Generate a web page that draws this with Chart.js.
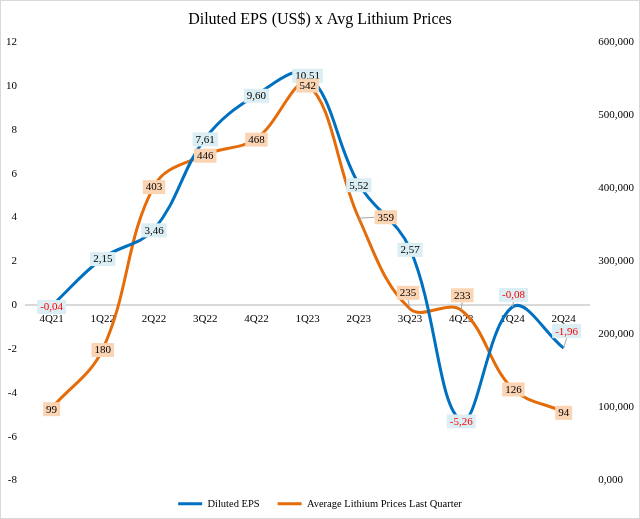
<!DOCTYPE html>
<html>
<head>
<meta charset="utf-8">
<script src="https://cdn.jsdelivr.net/npm/chart.js@4.4.1/dist/chart.umd.min.js"></script>
<style>
  html, body { margin: 0; padding: 0; background: #fff; }
  #wrap { width: 640px; height: 519px; position: relative; }
</style>
</head>
<body>
<div id="wrap"><canvas id="myChart"></canvas></div>
<script>
/* DATA */
const quarters = ['4Q21', '1Q22', '2Q22', '3Q22', '4Q22', '1Q23', '2Q23', '3Q23', '4Q23', '1Q24', '2Q24'];
const dilutedEps = [-0.04, 2.15, 3.46, 7.61, 9.60, 10.51, 5.52, 2.57, -5.26, -0.08, -1.96];
// average lithium price, thousands of US$
const lithiumK = [99, 180, 403, 446, 468, 542, 359, 235, 233, 126, 94];
const epsTicks = [-8, -6, -4, -2, 0, 2, 4, 6, 8, 10, 12];
const priceTicks = [0, 100, 200, 300, 400, 500, 600];
const priceTickLabels = ['0,000', '100,000', '200,000', '300,000', '400,000', '500,000', '600,000'];

const SERIF = '"Liberation Serif", "Times New Roman", serif';
Chart.defaults.font.family = SERIF;
Chart.defaults.color = '#000';

// where a data label sits relative to its point (px), default is centred
const epsLabelShift = { 9: [1, -12], 10: [3, -17] };
const lithiumLabelShift = { 6: [27, -1], 7: [-2, -16], 8: [1, -15], 9: [1, 1] };

/* box labels like the excel ones */
const boxLabels = {
  id: 'boxLabels',
  afterDatasetsDraw(chart) {
    const ctx = chart.ctx;
    ctx.save();
    ctx.font = '11px ' + SERIF;
    ctx.textAlign = 'center';
    ctx.textBaseline = 'middle';
    chart.data.datasets.forEach((ds, di) => {
      const lab = ds.boxLabel;
      chart.getDatasetMeta(di).data.forEach((pt, i) => {
        const v = ds.data[i];
        const text = lab.format(v);
        const [dx, dy] = lab.shift[i] || [0, 1];
        const w = ctx.measureText(text).width + 6;
        const h = 14;
        const cx = pt.x + dx, cy = pt.y + dy;
        if (Math.abs(dx) > 2 || Math.abs(dy) > 2) {
          let ex = cx, ey = cy;
          if (Math.abs(dx) > Math.abs(dy)) ex = cx - Math.sign(dx) * w / 2;
          else ey = cy - Math.sign(dy) * h / 2;
          ctx.strokeStyle = '#a6a6a6';
          ctx.lineWidth = 1;
          ctx.beginPath();
          ctx.moveTo(ex, ey);
          ctx.lineTo(pt.x, pt.y);
          ctx.stroke();
        }
        ctx.fillStyle = lab.fill;
        ctx.fillRect(cx - w / 2, cy - h / 2, w, h);
        ctx.fillStyle = v < 0 ? '#ff0000' : '#000';
        ctx.fillText(text, cx, cy + 0.5);
      });
    });
    ctx.restore();
  }
};

const frame = {
  id: 'frame',
  afterDraw(chart) {
    const ctx = chart.ctx;
    ctx.save();
    ctx.strokeStyle = '#d9d9d9';
    ctx.lineWidth = 1;
    ctx.strokeRect(0.5, 0.5, chart.width - 1, chart.height - 1);
    ctx.restore();
  }
};

const data = {
  labels: quarters,
  datasets: [
    {
      label: 'Diluted EPS',
      data: dilutedEps,
      yAxisID: 'y',
      borderColor: '#0070c0',
      backgroundColor: '#0070c0',
      borderWidth: 3,
      pointRadius: 0,
      tension: 0.38,
      boxLabel: {
        fill: '#daeef3',
        shift: epsLabelShift,
        format: v => v.toFixed(2).replace('.', ','),
      },
    },
    {
      label: 'Average Lithium Prices Last Quarter',
      data: lithiumK,
      yAxisID: 'y1',
      borderColor: '#e46c0a',
      backgroundColor: '#e46c0a',
      borderWidth: 3,
      pointRadius: 0,
      tension: 0.38,
      boxLabel: {
        fill: '#fbd4b4',
        shift: lithiumLabelShift,
        format: v => String(v),
      },
    },
  ],
};

const config = {
  type: 'line',
  data,
  plugins: [boxLabels, frame],
  options: {
    responsive: true,
    maintainAspectRatio: false,
    animation: false,
    layout: { padding: { left: -3, right: -3, top: 0, bottom: 0 } },
    plugins: {
      title: {
        display: true,
        text: 'Diluted EPS (US$) x Avg Lithium Prices',
        color: '#000',
        font: { size: 16, weight: 'normal', family: SERIF },
        padding: { top: 10, bottom: 13 },
      },
      legend: {
        position: 'bottom',
        labels: {
          usePointStyle: true,
          pointStyle: 'line',
          pointStyleWidth: 24,
          padding: 18,
          color: '#000',
          font: { size: 10.5, family: SERIF },
        },
      },
      tooltip: { enabled: false },
    },
    scales: {
      x: {
        position: { y: 0 },
        offset: true,
        grid: { display: false, drawTicks: false },
        border: { display: true, color: '#d9d9d9', width: 2 },
        ticks: { padding: 7, font: { size: 11 }, color: '#000', maxRotation: 0 },
      },
      y: {
        position: 'left',
        min: -8,
        max: 12,
        afterBuildTicks: s => { s.ticks = epsTicks.map(v => ({ value: v })); },
        grid: { display: false, drawTicks: false },
        border: { display: false },
        ticks: { padding: 9, font: { size: 11 }, color: '#000' },
      },
      y1: {
        position: 'right',
        min: 0,
        max: 600,
        afterBuildTicks: s => { s.ticks = priceTicks.map(v => ({ value: v })); },
        grid: { display: false, drawTicks: false },
        border: { display: false },
        ticks: {
          padding: 9,
          font: { size: 11 },
          color: '#000',
          callback: v => priceTickLabels[priceTicks.indexOf(v)],
        },
      },
    },
  },
};

document.addEventListener('DOMContentLoaded', () => {
  const canvas = document.getElementById('myChart');
  new Chart(canvas.getContext('2d'), config);
});
</script>
</body>
</html>
